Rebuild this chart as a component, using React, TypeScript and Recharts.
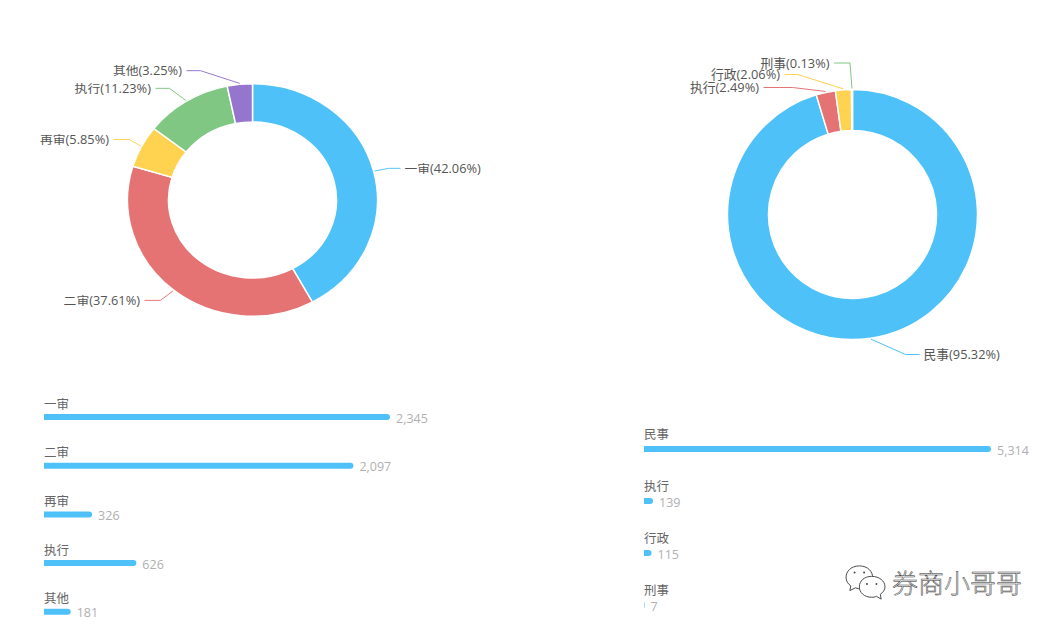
import React from 'react';
import { BarChart, Bar, XAxis, YAxis, LabelList, PieChart, Pie, Cell } from 'recharts';

const levelNames = ['一审', '二审', '再审', '执行', '其他'];
const levelValues = [2345, 2097, 326, 626, 181];
const levelColors = ['#4fc1f9', '#e57373', '#ffd24f', '#81c784', '#9575cd'];

const typeNames = ['民事', '执行', '行政', '刑事'];
const typeValues = [5314, 139, 115, 7];
const typeColors = ['#4fc1f9', '#e57373', '#ffd24f', '#81c784'];

// label elbow relative to pie center: dx, dy, horizontal arm
const levelElbows = [[136, -34, 12], [-92, 108, 16], [-123, -65, 16], [-83, -120, 14], [-52, -139, 14]];
const typeElbows = [[53, 140, 14], [-60, -127, 29], [-55, -140, 13], [-2.5, -151.5, 16]];

const FONT = '"Open Sans", "Noto Sans CJK SC", sans-serif';
const RAD = Math.PI / 180;

function toRows(names: string[], values: number[]) {
  return names.map((name, i) => ({ name, value: values[i] }));
}

function makePieLabel(elbows: number[][], colors: string[]) {
  return (props: any) => {
    const { cx, cy, midAngle, outerRadius, percent, name, index } = props;
    const [dx, dy, arm] = elbows[index];
    const sx = cx + (outerRadius + 1) * Math.cos(-midAngle * RAD);
    const sy = cy + (outerRadius + 1) * Math.sin(-midAngle * RAD);
    const ex = cx + dx;
    const ey = cy + dy;
    const right = dx > 0;
    const tx = ex + (right ? arm : -arm);
    return (
      <g>
        <polyline points={`${sx},${sy} ${ex},${ey} ${tx},${ey}`} fill="none" stroke={colors[index]} strokeWidth={1} />
        <text
          x={tx + (right ? 4 : -4.5)}
          y={ey + 4.5}
          textAnchor={right ? 'start' : 'end'}
          fontSize={12.8}
          fontFamily={FONT}
          fill="#555"
        >
          {`${name}(${(percent * 100).toFixed(2)}%)`}
        </text>
      </g>
    );
  };
}

function Donut({ names, values, colors, elbows, cx, cy }: any) {
  return (
    <PieChart width={520} height={430} margin={{ top: 0, right: 0, bottom: 0, left: 0 }}>
      <Pie
        data={toRows(names, values)}
        dataKey="value"
        nameKey="name"
        cx={cx}
        cy={cy}
        innerRadius={84}
        outerRadius={125}
        startAngle={90}
        endAngle={-270}
        stroke="#fff"
        strokeWidth={1.5}
        labelLine={false}
        label={makePieLabel(elbows, colors)}
        isAnimationActive={false}
      >
        {names.map((n: string, i: number) => (
          <Cell key={n} fill={colors[i]} />
        ))}
      </Pie>
    </PieChart>
  );
}

const makeName = (lift: number) => (props: any) => (
  <text x={props.x} y={props.y + props.height / 2 - lift} fontSize={12.5} fontFamily={FONT} fill="#666">
    {props.value}
  </text>
);

const renderValue = (props: any) => (
  <text
    x={props.x + props.width + 6}
    y={props.y + props.height / 2 + 5.5}
    fontSize={12.5}
    fontFamily={FONT}
    fill="#b0b0b0"
  >
    {Number(props.value).toLocaleString('en-US')}
  </text>
);

function Bars({ names, values, width, height, rightGap, nameLift }: any) {
  return (
    <BarChart
      layout="vertical"
      width={width}
      height={height}
      data={toRows(names, values)}
      margin={{ top: 0, right: rightGap, bottom: 0, left: 0 }}
    >
      <XAxis type="number" hide domain={[0, Math.max(...values)]} />
      <YAxis type="category" dataKey="name" hide />
      <Bar dataKey="value" fill="#4fc1f9" barSize={6} radius={[0, 3, 3, 0]} isAnimationActive={false}>
        <LabelList dataKey="name" content={makeName(nameLift)} />
        <LabelList dataKey="value" content={renderValue} />
      </Bar>
    </BarChart>
  );
}

const at = (left: number, top: number): React.CSSProperties => ({ position: 'absolute', left, top });

export default function App() {
  return (
    <div style={{ position: 'absolute', left: 0, top: 0, width: 1056, height: 630, overflow: 'hidden', background: '#fff' }}>
      <div style={{ ...at(0, 0), transform: 'scaleY(0.93)', transformOrigin: '0 0' }}>
        <Donut names={levelNames} values={levelValues} colors={levelColors} elbows={levelElbows} cx={252.5} cy={215} />
      </div>
      <div style={at(536, 0)}>
        <Donut names={typeNames} values={typeValues} colors={typeColors} elbows={typeElbows} cx={316.5} cy={214.5} />
      </div>
      <div style={at(44, 392.5)}>
        <Bars names={levelNames} values={levelValues} width={420} height={243.5} rightGap={74} nameLift={8.5} />
      </div>
      <div style={at(644, 423)}>
        <Bars names={typeNames} values={typeValues} width={410} height={208} rightGap={63} nameLift={10} />
      </div>
      <svg style={at(843, 564)} width={46} height={38} viewBox="0 0 46 40">
        <g fill="#fff" stroke="#444" strokeWidth={1}>
          <path d="M16 2 C7 2 2 8 2 14 C2 18 4 21 7 23 L6 28 L12 25 C14 26 16 26 18 26 C25 26 30 20 30 14 C30 8 25 2 16 2 Z" />
          <path d="M29 13 C21 13 16 18 16 24 C16 30 21 35 29 35 C31 35 32 35 34 34 L39 37 L38 32 C41 30 43 27 43 24 C43 18 37 13 29 13 Z" />
        </g>
        <g fill="#444">
          <circle cx={11} cy={9} r={1} />
          <circle cx={21} cy={9} r={1} />
          <circle cx={24} cy={21} r={1} />
          <circle cx={34} cy={21} r={1} />
        </g>
      </svg>
      <div
        style={{
          ...at(892, 565),
          fontFamily: '"Noto Sans CJK SC", sans-serif',
          fontSize: 26,
          fontWeight: 300,
          lineHeight: '34px',
          whiteSpace: 'nowrap',
          color: '#f4f4f4',
          WebkitTextStroke: '0.5px #333',
        }}
      >
        券商小哥哥
      </div>
    </div>
  );
}
